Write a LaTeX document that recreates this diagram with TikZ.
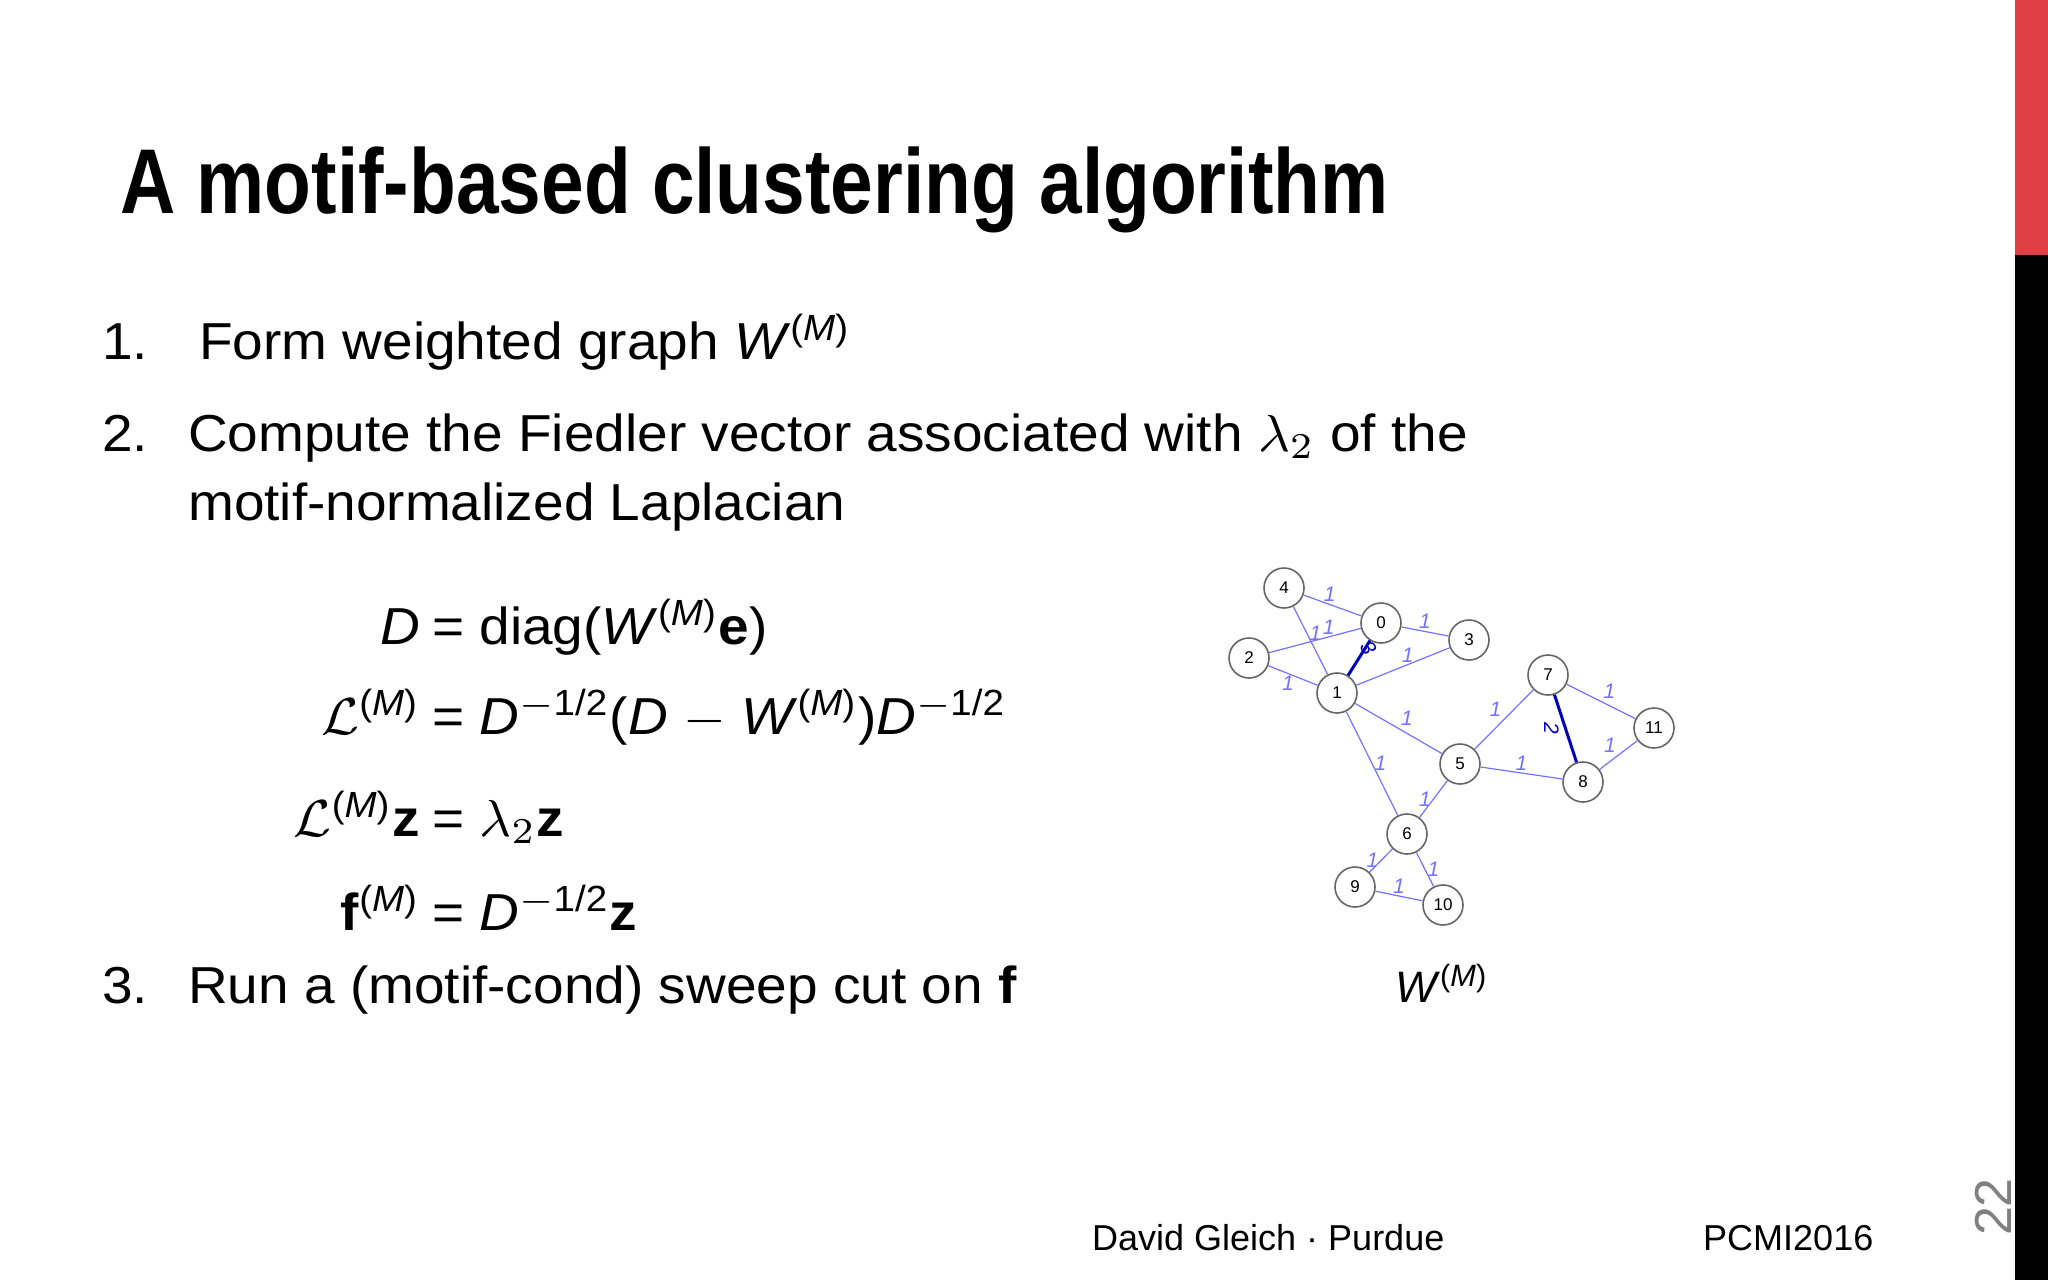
\documentclass[tikz,border=0pt]{standalone}
\usepackage{amsmath,graphicx}
\usepackage{fontspec}
\setmainfont{Liberation Sans}
\begin{document}
\begin{tikzpicture}[x=1pt,y=-1pt,
  txt/.style={anchor=base west,inner sep=0},
  gn/.style={circle,draw=black!60,line width=1.6pt,fill=white,minimum size=40pt,inner sep=0,font=\fontsize{17}{19}\selectfont},
  ge/.style={draw=blue!55!white,line width=1.2pt},
  gh/.style={draw=blue!75!black,line width=3pt},
  wl/.style={font=\fontsize{21}{23}\selectfont\itshape,text=blue!55!white,inner sep=2pt}]
\useasboundingbox (0,0) rectangle (2048,1280);
\fill[white] (0,0) rectangle (2048,1280);
\fill[black] (2015,255) rectangle (2048,1280);
\definecolor{barred}{RGB}{222,64,68}
\fill[barred] (2015,0) rectangle (2048,255);
% title
\node[txt] (title) at (120,213) {\scalebox{7.66}[9.2]{\bfseries A motif-based clustering algorithm}};
\newcommand\bt[1]{\scalebox{5.5}[5.2]{#1}}
\newcommand\I[1]{\textit{#1}}
\newcommand\sM{$^{\text{(\I{M})}}$}
\node[txt] (n1) at (102,359) {\bt{1.}};
\node[txt] (t1) at (199,359) {\bt{Form weighted graph \I{W}\sM}};
\node[txt] (n2) at (102,451) {\bt{2.}};
\node[txt] (t2) at (188,451) {\bt{Compute the Fiedler vector associated with $\lambda_2$ of the}};
\node[txt] (t2b) at (188,520) {\bt{motif-normalized Laplacian}};
\node[anchor=base east,inner sep=0] (e1l) at (420,644) {\bt{\I{D}}};
\node[txt] (e1r) at (432,644) {\bt{= diag(\I{W}\sM\textbf{e})}};
\node[anchor=base east,inner sep=0] (e2l) at (420,734) {\bt{$\mathcal{L}$\sM}};
\node[txt] (e2r) at (432,734) {\bt{= \I{D}$^{\text{$-$1/2}}$(\I{D} $-$ \I{W}\sM)\I{D}$^{\text{$-$1/2}}$}};
\node[anchor=base east,inner sep=0] (e3l) at (420,836) {\bt{$\mathcal{L}$\sM\textbf{z}}};
\node[txt] (e3r) at (432,836) {\bt{= $\lambda_2$\textbf{z}}};
\node[anchor=base east,inner sep=0] (e4l) at (420,930) {\bt{\textbf{f}\sM}};
\node[txt] (e4r) at (432,930) {\bt{= \I{D}$^{\text{$-$1/2}}$\textbf{z}}};
\node[txt] (n3) at (102,1003) {\bt{3.}};
\node[txt] (t3) at (188,1003) {\bt{Run a (motif-cond) sweep cut on \textbf{f}}};
% graph
\node[gn] (g4) at (1284,588) {4};
\node[gn] (g0) at (1381,623) {0};
\node[gn] (g3) at (1469,640) {3};
\node[gn] (g2) at (1249,658) {2};
\node[gn] (g1) at (1337,693) {1};
\node[gn] (g7) at (1548,675) {7};
\node[gn] (g11) at (1654,728) {11};
\node[gn] (g5) at (1460,764) {5};
\node[gn] (g8) at (1583,782) {8};
\node[gn] (g6) at (1407,834) {6};
\node[gn] (g9) at (1355,887) {9};
\node[gn] (g10) at (1443,905) {10};
\path[ge] (g4)--node[wl,pos=0.45,above]{1}(g0);
\path[ge] (g4)--node[wl,pos=0.4,right]{1}(g1);
\path[ge] (g2)--node[wl,pos=0.65,above]{1}(g0);
\path[ge] (g2)--node[wl,pos=0.4,below]{1}(g1);
\path[gh] (g1)--node[wl,text=blue!75!black,rotate=-60,xshift=-4pt,yshift=14pt]{3}(g0);
\path[ge] (g0)--node[wl,above]{1}(g3);
\path[ge] (g1)--node[wl,pos=0.55,above]{1}(g3);
\path[ge] (g1)--node[wl,above right]{1}(g5);
\path[ge] (g1)--node[wl,right]{1}(g6);
\path[ge] (g5)--node[wl,above left]{1}(g7);
\path[ge] (g5)--node[wl,above]{1}(g8);
\path[ge] (g5)--node[wl,left]{1}(g6);
\path[gh] (g7)--node[wl,text=blue!75!black,rotate=-90,yshift=-14pt]{2}(g8);
\path[ge] (g7)--node[wl,above right]{1}(g11);
\path[ge] (g8)--node[wl,above left]{1}(g11);
\path[ge] (g6)--node[wl,left]{1}(g9);
\path[ge] (g6)--node[wl,right]{1}(g10);
\path[ge] (g9)--node[wl,above]{1}(g10);
\node[txt] (wm) at (1395,1002) {\scalebox{4.4}{\I{W}\sM}};
% footer
\node[txt] (f1) at (1092,1250) {\fontsize{36}{40}\selectfont David Gleich · Purdue};
\node[txt] (f2) at (1703,1250) {\fontsize{36}{40}\selectfont PCMI2016};
\node[rotate=90,text=black!50,inner sep=0] (pg) at (1993,1207) {\fontsize{52}{56}\selectfont 22};
\end{tikzpicture}
\end{document}
